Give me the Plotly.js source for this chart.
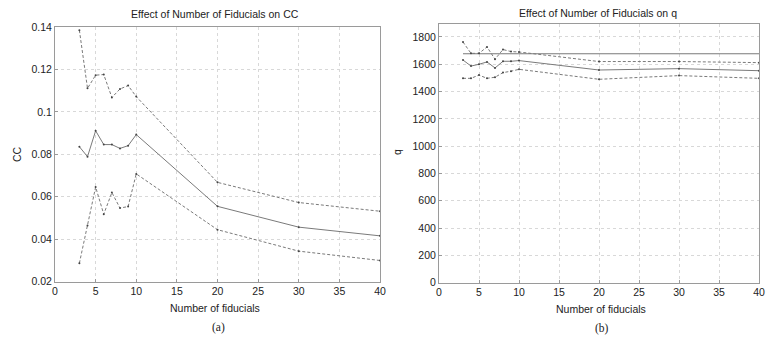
<!DOCTYPE html>
<html>
<head>
<meta charset="utf-8">
<script src="https://cdn.plot.ly/plotly-3.0.1.min.js"></script>
<style>html,body{margin:0;padding:0;background:#fff;}#chart{width:767px;height:339px;}</style>
</head>
<body>
<div id="chart"></div>
<script>
const fiducials = [3, 4, 5, 6, 7, 8, 9, 10, 20, 30, 40];
const ccUpper = [0.1385, 0.1111, 0.1173, 0.1176, 0.1068, 0.1108, 0.1124, 0.1072, 0.0668, 0.0573, 0.0532];
const ccMean  = [0.0836, 0.0789, 0.0911, 0.0846, 0.0846, 0.0828, 0.0841, 0.0893, 0.0555, 0.0457, 0.0416];
const ccLower = [0.0287, 0.0465, 0.0646, 0.0518, 0.0620, 0.0547, 0.0554, 0.0708, 0.0445, 0.0344, 0.0300];
const qUpper  = [1763, 1680, 1680, 1727, 1637, 1708, 1693, 1690, 1620, 1620, 1612];
const qMean   = [1631, 1587, 1600, 1617, 1573, 1622, 1622, 1627, 1558, 1568, 1553];
const qLower  = [1497, 1497, 1521, 1497, 1505, 1539, 1549, 1563, 1490, 1517, 1497];
const qTrue   = [1677, 1677, 1677, 1677, 1677, 1677, 1677, 1677, 1677, 1677, 1677];
const xTicks = [0, 5, 10, 15, 20, 25, 30, 35, 40];
const ccTicks = [0.02, 0.04, 0.06, 0.08, 0.1, 0.12, 0.14];
const ccTickText = ['0.02', '0.04', '0.06', '0.08', '0.1', '0.12', '0.14'];
const qTicks = [0, 200, 400, 600, 800, 1000, 1200, 1400, 1600, 1800];

const lineCol = '#7a7a7a';
const markCol = '#444';
function tr(y, xa, ya, dash, withMarkers) {
  return {
    x: fiducials, y: y, xaxis: xa, yaxis: ya, type: 'scatter',
    mode: withMarkers ? 'lines+markers' : 'lines',
    line: {color: lineCol, width: 1, dash: dash},
    marker: {size: 2, color: markCol},
    showlegend: false, hoverinfo: 'skip'
  };
}
const DASH = '3px,2px';
const data = [
  tr(ccUpper, 'x', 'y', DASH, true),
  tr(ccMean, 'x', 'y', 'solid', true),
  tr(ccLower, 'x', 'y', DASH, true),
  tr(qTrue, 'x2', 'y2', 'solid', false),
  tr(qUpper, 'x2', 'y2', DASH, true),
  tr(qMean, 'x2', 'y2', 'solid', true),
  tr(qLower, 'x2', 'y2', DASH, true)
];
const font = {family: 'Liberation Sans, Arial, sans-serif', size: 10.5, color: '#222'};
function xax(domain, anchor) {
  return {domain: domain, anchor: anchor, range: [0, 40], tickvals: xTicks, ticktext: xTicks.map(String),
    showgrid: true, gridcolor: '#d8d8d8', griddash: 'dot', gridwidth: 1, zeroline: false,
    showline: true, mirror: true, linecolor: '#9a9a9a', linewidth: 1,
    ticks: 'inside', ticklen: 3, tickcolor: '#9a9a9a', tickfont: font, fixedrange: true};
}
function yax(domain, anchor, range, tv, tt) {
  return {domain: domain, anchor: anchor, range: range, tickvals: tv, ticktext: tt,
    showgrid: true, gridcolor: '#d8d8d8', griddash: 'dot', gridwidth: 1, zeroline: false,
    showline: true, mirror: true, linecolor: '#9a9a9a', linewidth: 1,
    ticks: 'inside', ticklen: 3, tickcolor: '#9a9a9a', tickfont: font, fixedrange: true};
}
const H = 339, W = 767;
const px = v => v / W, py = v => 1 - v / H;
function ann(text, x, y, f, angle) {
  return {text: text, x: px(x), y: py(y), xref: 'paper', yref: 'paper', xanchor: 'center', yanchor: 'middle',
    showarrow: false, textangle: angle || 0, font: f};
}
const tf = {family: font.family, size: 10.5, color: '#222'};
const sf = {family: 'Liberation Serif, Times New Roman, serif', size: 11.5, color: '#222'};
const layout = {
  width: W, height: H, margin: {l: 0, r: 0, t: 0, b: 0},
  paper_bgcolor: '#fff', plot_bgcolor: '#fff', font: font,
  xaxis: xax([px(55), px(380)], 'y'),
  yaxis: yax([py(281.7), py(27)], 'x', [0.02, 0.14], ccTicks, ccTickText),
  xaxis2: xax([px(439), px(759)], 'y2'),
  yaxis2: yax([py(282.7), py(24)], 'x2', [0, 1895], qTicks, qTicks.map(String)),
  annotations: [
    ann('Effect of Number of Fiducials on CC', 215, 14, tf),
    ann('Effect of Number of Fiducials on q', 598, 13, tf),
    ann('Number of fiducials', 215, 308, tf),
    ann('Number of fiducials', 601, 309, tf),
    ann('(a)', 218, 327, sf),
    ann('(b)', 602, 328, sf),
    ann('CC', 17, 154, tf, -90),
    ann('q', 397, 152, tf, -90)
  ]
};
Plotly.newPlot('chart', data, layout, {displayModeBar: false, staticPlot: true});
</script>
</body>
</html>
